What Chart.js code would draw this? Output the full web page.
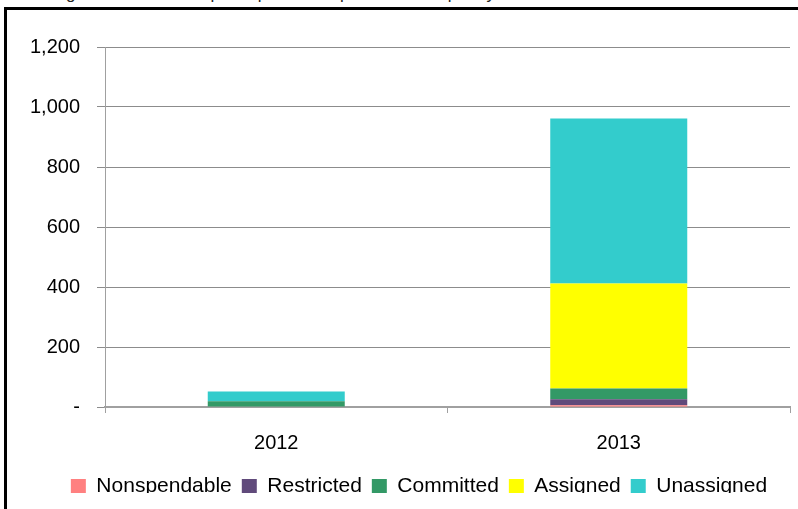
<!DOCTYPE html>
<html>
<head>
<meta charset="utf-8">
<script src="https://cdn.jsdelivr.net/npm/chart.js@4.4.0/dist/chart.umd.min.js"></script>
<style>
  html, body { margin: 0; padding: 0; background: #fff; }
  body { width: 798px; height: 509px; position: relative; overflow: hidden; font-family: "Liberation Sans", Arial, sans-serif; }
  #caption { position: absolute; left: 14px; top: -16px; font-size: 17px; color: #222; white-space: nowrap; }
  #frame { position: absolute; left: 4px; top: 7px; width: 791px; height: 520px; border: 3px solid #000; border-bottom: none; }
  #clip { position: absolute; left: 0; top: 0; width: 798px; height: 493px; overflow: hidden; }
  #holder { position: absolute; left: 0; top: 0; width: 813px; height: 509px; }
</style>
</head>
<body>
<div id="caption">Unassigned fund balance per capita in comparison to the prior year</div>
<div id="clip">
  <div id="holder"><canvas id="fundChart"></canvas></div>
</div>
<div id="frame"></div>
<script>
(() => {
    // Fund balance components per year
    const years        = ['2012', '2013'];
    const nonspendable = [0, 6];
    const restricted   = [0, 20];
    const committed    = [19, 36];
    const assigned     = [0, 350];
    const unassigned   = [33, 550];

    const yTicks = [0, 200, 400, 600, 800, 1000, 1200];

    const FONT = '"Liberation Sans", Arial, sans-serif';
    const AXIS_GRAY = '#a0a0a0';

    function series(label, data, color) {
        return { label, data, backgroundColor: color, borderWidth: 0 };
    }

    const ctx = document.getElementById('fundChart').getContext('2d');
    new Chart(ctx, {
        type: 'bar',
        data: {
            labels: years,
            datasets: [
                series('Nonspendable', nonspendable, '#ff8080'),
                series('Restricted',   restricted,   '#604a7b'),
                series('Committed',    committed,    '#339966'),
                series('Assigned',     assigned,     '#ffff00'),
                series('Unassigned',   unassigned,   '#33cccc')
            ]
        },
        options: {
            responsive: true,
            maintainAspectRatio: false,
            animation: false,
            categoryPercentage: 1,
            barPercentage: 0.4,
            layout: { padding: { left: 25, right: 0, top: 47, bottom: 2 } },
            plugins: {
                tooltip: { enabled: false },
                legend: {
                    position: 'bottom',
                    labels: {
                        boxWidth: 15,
                        boxHeight: 15,
                        padding: 10,
                        color: '#000',
                        font: { family: FONT, size: 21 }
                    }
                }
            },
            scales: {
                x: {
                    stacked: true,
                    afterFit: s => { s.height = 59; },
                    grid: {
                        offset: true,
                        drawOnChartArea: false,
                        drawTicks: true,
                        tickLength: 6,
                        color: AXIS_GRAY
                    },
                    border: { color: AXIS_GRAY, width: 2 },
                    ticks: { color: '#000', padding: 18, font: { family: FONT, size: 20 } }
                },
                y: {
                    stacked: true,
                    min: 0,
                    max: 1200,
                    afterFit: s => { s.width = 80; },
                    afterBuildTicks: s => { s.ticks = yTicks.map(v => ({ value: v })); },
                    grid: { color: '#8c8c8c', tickLength: 8, lineWidth: 1 },
                    border: { color: AXIS_GRAY, width: 1 },
                    ticks: {
                        color: '#000',
                        padding: 17,
                        font: { family: FONT, size: 20 },
                        callback: v => v === 0 ? '-' : v.toLocaleString('en-US')
                    }
                },
                // empty right-hand strip past the plot edge
                spacer: {
                    type: 'linear',
                    position: 'right',
                    afterFit: s => { s.width = 23; },
                    grid: { display: false },
                    border: { display: false },
                    ticks: { display: false }
                }
            }
        }
    });
})();
</script>
</body>
</html>
